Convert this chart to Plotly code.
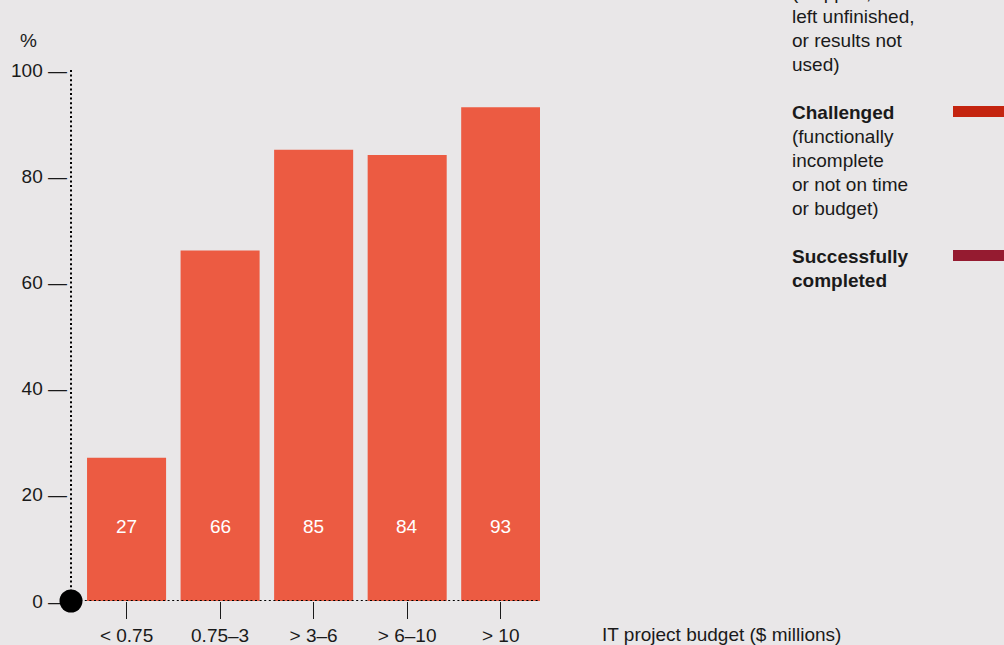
import plotly.graph_objects as go

categories = ["< 0.75", "0.75–3", "> 3–6", "> 6–10", "> 10"]
challenged_pct = [27, 66, 85, 84, 93]
y_ticks = [0, 20, 40, 60, 80, 100]

BG = "#E9E7E8"
BAR = "#EC5B42"
TXT = "#1a1a1a"
FONT = "Liberation Sans, Arial, sans-serif"
FS = 19

# plot area in pixels
L, R, T, B = 71, 540, 70, 601
W, H = 1004, 645
PW, PH = R - L, B - T

def px(x):
    return (x - L) / PW

def py(y):
    return (B - y) / PH

fig = go.Figure()
fig.add_trace(go.Bar(
    x=list(range(len(categories))), y=challenged_pct,
    marker=dict(color=BAR, line=dict(width=0)),
    width=0.845, hoverinfo="skip", showlegend=False,
))

# value labels near the bar base
for i, v in enumerate(challenged_pct):
    fig.add_annotation(x=i, y=14, text=str(v), showarrow=False, xref="x", yref="y",
                       font=dict(family=FONT, size=FS, color="white"))

# dotted axis lines
fig.add_shape(type="line", xref="x domain", yref="y", x0=0, x1=0, y0=0, y1=100.6,
              line=dict(color="black", width=2, dash="2px,2.6px"), layer="above")
fig.add_shape(type="line", xref="x domain", yref="y", x0=0, x1=1, y0=0, y1=0,
              line=dict(color="black", width=2, dash="2px,2.6px"), layer="above")
# origin dot (paper refs so it is not clipped)
fig.add_shape(type="circle", xref="paper", yref="paper", xsizemode="pixel", ysizemode="pixel",
              xanchor=0, yanchor=0, x0=-11.5, x1=11.5, y0=-11.5, y1=11.5,
              fillcolor="black", line=dict(width=0), layer="above")

fig.add_annotation(xref="paper", yref="paper", x=px(18), y=py(40), text="%", showarrow=False,
                   xanchor="left", yanchor="middle", font=dict(family=FONT, size=FS, color=TXT))
fig.add_annotation(xref="paper", yref="paper", x=px(600), y=py(634),
                   text="IT project budget ($ millions)", showarrow=False,
                   xanchor="left", yanchor="middle", font=dict(family=FONT, size=FS, color=TXT))

# legend text blocks
legend_lines = [
    ("(stopped,", False, -8),
    ("left unfinished,", False, 16),
    ("or results not", False, 40),
    ("used)", False, 64),
    ("Challenged", True, 112),
    ("(functionally", False, 136),
    ("incomplete", False, 160),
    ("or not on time", False, 184),
    ("or budget)", False, 208),
    ("Successfully", True, 256),
    ("completed", True, 280),
]
for txt, bold, yy in legend_lines:
    fig.add_annotation(xref="paper", yref="paper", x=px(790), y=py(yy),
                       text=f"<b>{txt}</b>" if bold else txt, showarrow=False,
                       xanchor="left", yanchor="middle",
                       font=dict(family=FONT, size=FS, color=TXT))

# legend swatches
for color, y0 in [("#C4240F", 106), ("#951B30", 250)]:
    fig.add_shape(type="rect", xref="paper", yref="paper", x0=px(953), x1=px(1010),
                  y0=py(y0 + 11), y1=py(y0), fillcolor=color, line=dict(width=0))

fig.update_layout(
    width=W, height=H,
    margin=dict(l=L, r=W - R, t=T, b=H - B),
    paper_bgcolor=BG, plot_bgcolor=BG,
    font=dict(family=FONT, size=FS, color=TXT),
    bargap=0.15,
    xaxis=dict(range=[-0.594, 4.42], tickmode="array", tickvals=list(range(len(categories))),
               ticktext=categories, ticks="outside", ticklen=17, tickwidth=1, tickcolor=TXT,
               showgrid=False, zeroline=False, showline=False, automargin=False,
               tickfont=dict(family=FONT, size=FS, color=TXT)),
    yaxis=dict(range=[0, 100], tickmode="array", tickvals=y_ticks,
               ticktext=[f"{t} \u2014" for t in y_ticks], ticks="",
               showgrid=False, zeroline=False, showline=False, automargin=False,
               tickfont=dict(family=FONT, size=FS, color=TXT), ticklabelstandoff=3),
)

fig.write_html("out.html")
